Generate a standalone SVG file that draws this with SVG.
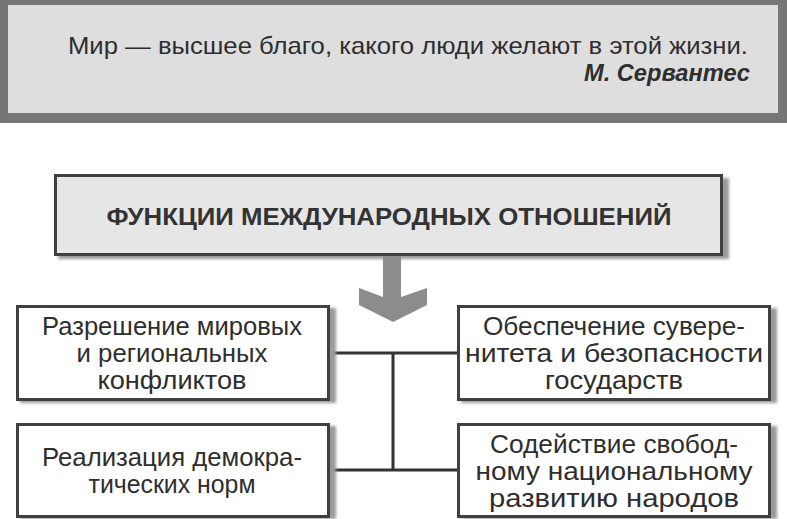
<svg xmlns="http://www.w3.org/2000/svg" width="787" height="519" viewBox="0 0 787 519">
  <defs>
    <filter id="shadow" x="-5%" y="-10%" width="115%" height="130%">
      <feGaussianBlur stdDeviation="1.5"/>
    </filter>
  </defs>
  <style>
    .frame { fill: #ffffff; stroke: #404040; stroke-width: 3; }
    .shade { fill: #9a9a9a; filter: url(#shadow); }
    .txt { font-family: "Liberation Sans", Arial, sans-serif; font-size: 25px; fill: #2e2e2e; text-anchor: middle; }
    .title { font-family: "Liberation Sans", Arial, sans-serif; font-size: 24px; font-weight: bold; fill: #333333; text-anchor: middle; }
    .quote { font-family: "Liberation Sans", Arial, sans-serif; font-size: 24px; fill: #2e2e2e; text-anchor: end; }
    .author { font-family: "Liberation Sans", Arial, sans-serif; font-size: 24px; font-weight: bold; font-style: italic; fill: #2e2e2e; text-anchor: end; }
    .conn { fill: none; stroke: #333333; stroke-width: 3; }
  </style>

  <rect width="787" height="519" fill="#ffffff"/>

  <g id="quote">
    <rect x="0" y="0" width="787" height="123" fill="#767676"/>
    <rect x="8" y="5" width="770" height="108" fill="#dedede"/>
    <text class="quote" x="748" y="54" textLength="680" lengthAdjust="spacingAndGlyphs">Мир — высшее благо, какого люди желают в этой жизни.</text>
    <text class="author" x="750" y="81" textLength="166" lengthAdjust="spacingAndGlyphs">М. Сервантес</text>
  </g>

  <g id="title">
    <rect class="shade" x="58" y="178" width="671" height="81"/>
    <rect x="55.5" y="175.5" width="666" height="79" fill="#e6e6e6" stroke="#404040" stroke-width="3"/>
    <text class="title" x="389" y="225" textLength="565" lengthAdjust="spacingAndGlyphs">ФУНКЦИИ МЕЖДУНАРОДНЫХ ОТНОШЕНИЙ</text>
  </g>

  <g id="arrow">
    <polygon points="383,256 401,256 401,297 427,288 427,305 393,322 359,305 359,288 383,297" fill="#8c8c8c"/>
  </g>

  <g id="connectors">
    <path class="conn" d="M329,353 H457 M393,353 V470 M329,470 H457"/>
  </g>

  <g id="node-tl">
    <rect class="shade" x="20" y="308" width="316" height="95"/>
    <rect class="frame" x="17.5" y="306.5" width="311" height="93"/>
    <text class="txt" x="172" y="335" textLength="260" lengthAdjust="spacingAndGlyphs">Разрешение мировых</text>
    <text class="txt" x="172" y="362" textLength="191" lengthAdjust="spacingAndGlyphs">и региональных</text>
    <text class="txt" x="172" y="389" textLength="149" lengthAdjust="spacingAndGlyphs">конфликтов</text>
  </g>

  <g id="node-tr">
    <rect class="shade" x="461" y="308" width="316" height="95"/>
    <rect class="frame" x="458.5" y="306.5" width="311" height="93"/>
    <text class="txt" x="614" y="335" textLength="262" lengthAdjust="spacingAndGlyphs">Обеспечение сувере-</text>
    <text class="txt" x="614" y="362" textLength="298" lengthAdjust="spacingAndGlyphs">нитета и безопасности</text>
    <text class="txt" x="614" y="389" textLength="138" lengthAdjust="spacingAndGlyphs">государств</text>
  </g>

  <g id="node-bl">
    <rect class="shade" x="20" y="426" width="316" height="93"/>
    <rect class="frame" x="17.5" y="424.5" width="311" height="92"/>
    <text class="txt" x="172" y="466" textLength="260" lengthAdjust="spacingAndGlyphs">Реализация демокра-</text>
    <text class="txt" x="172" y="493" textLength="167" lengthAdjust="spacingAndGlyphs">тических норм</text>
  </g>

  <g id="node-br">
    <rect class="shade" x="461" y="426" width="316" height="93"/>
    <rect class="frame" x="458.5" y="424.5" width="311" height="92"/>
    <text class="txt" x="614" y="453" textLength="248" lengthAdjust="spacingAndGlyphs">Содействие свобод-</text>
    <text class="txt" x="614" y="480" textLength="277" lengthAdjust="spacingAndGlyphs">ному национальному</text>
    <text class="txt" x="614" y="507" textLength="250" lengthAdjust="spacingAndGlyphs">развитию народов</text>
  </g>
</svg>
